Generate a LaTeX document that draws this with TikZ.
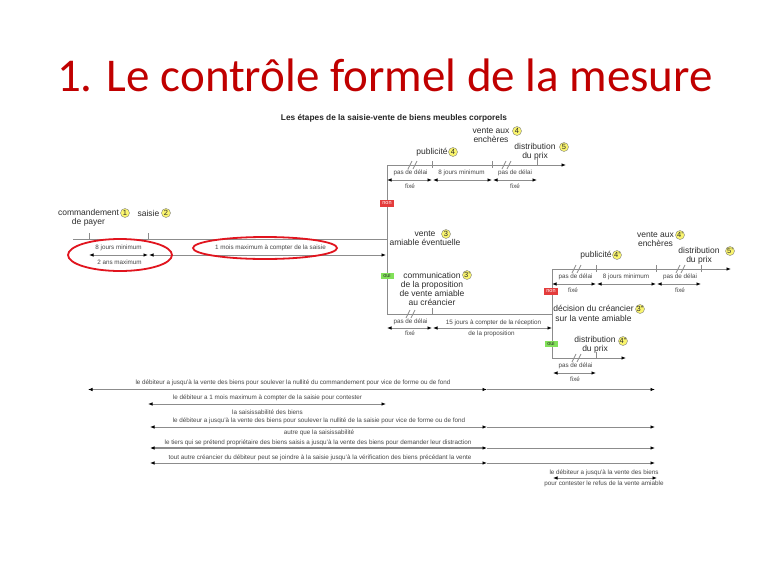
\documentclass[tikz,border=0pt]{standalone}
\usepackage{fontspec}
\setmainfont{Liberation Sans}
\newfontfamily\titlefont{Carlito}
\usetikzlibrary{arrows.meta}
\definecolor{titlered}{RGB}{192,0,0}
\definecolor{linegray}{RGB}{140,140,140}
\definecolor{labgray}{RGB}{45,45,45}
\definecolor{smallgray}{RGB}{70,70,70}
\definecolor{numyellow}{RGB}{250,245,110}
\definecolor{nonred}{RGB}{228,60,60}
\definecolor{ouigreen}{RGB}{130,225,90}
\definecolor{ellred}{RGB}{225,20,30}
\newcommand\dslash[2]{%
  \draw[tline] (#1-5,#2+4) -- (#1-1,#2-4);
  \draw[tline] (#1,#2+4) -- (#1+4,#2-4);}
\newcommand\tmk[2]{\draw[tline] (#1,#2-4) -- (#1,#2+3);}
\begin{document}
\begin{tikzpicture}[x=1pt,y=-1pt,
  >={Latex[length=4.5pt,width=3.5pt,color=black]},
  tline/.style={draw=linegray,line width=0.8pt},
  lab/.style={font=\fontsize{8.5}{9.3}\selectfont,text=labgray,align=center,inner sep=0pt},
  small/.style={font=\fontsize{6.3}{7}\selectfont,text=smallgray,inner sep=0pt},
  numc/.style={circle,fill=numyellow,draw=gray,line width=0.4pt,inner sep=0pt,minimum size=9pt,font=\fontsize{7.5}{8}\selectfont,text=labgray},
  nonbox/.style={fill=nonred,text=white,font=\fontsize{5.5}{6}\selectfont,minimum width=14pt,minimum height=7pt,inner sep=0pt},
  ouibox/.style={fill=ouigreen,text=labgray,font=\fontsize{5.5}{6}\selectfont,minimum width=13pt,minimum height=6.5pt,inner sep=0pt}]
\useasboundingbox (0,0) rectangle (768,576);
\fill[white] (0,0) rectangle (768,576);

% titles
\node[font=\titlefont\fontsize{47}{50}\selectfont,text=titlered,anchor=base,inner sep=0pt] (title) at (385,91) {1. Le contrôle formel de la mesure};
\node[font=\bfseries\fontsize{8.3}{9}\selectfont,text=black!85,inner sep=0pt] (dtitle) at (394,118) {Les étapes de la saisie-vente de biens meubles corporels};

% ---------- main line ----------
\coordinate (m0) at (73,239);
\coordinate (mj) at (387,239);
\draw[tline] (m0) -- (mj);
\tmk{89}{237}\tmk{148}{237}
\coordinate (a0) at (89,255);
\coordinate (a1) at (148,255);
\coordinate (a1b) at (149,255);
\coordinate (a2) at (386,255);
\draw[tline,<->] (a0) -- (a1);
\draw[tline,<->] (a1b) -- (a2);
\node[lab] (cmd) at (88.5,218) {commandement\\de payer};
\node[numc] (n1) at (125,213) {1};
\node[lab] (saisie) at (148.5,213) {saisie};
\node[numc] (n2) at (166,213) {2};
\node[small] (s8j) at (118.5,248) {8 jours minimum};
\node[small] (s2a) at (119.5,262) {2 ans maximum};
\node[small] (s1m) at (270.5,248) {1 mois maximum à compter de la saisie};
\draw[ellred,line width=1.8pt] (120,255) ellipse [x radius=52,y radius=16];
\draw[ellred,line width=1.8pt] (265,248) ellipse [x radius=72,y radius=11];

% ---------- vertical 1 and top timeline ----------
\coordinate (v1t) at (387,165);
\coordinate (v1b) at (387,314);
\coordinate (t1e) at (566,165);
\draw[tline] (v1t) -- (v1b);
\draw[tline,->] (v1t) -- (t1e);
\tmk{432}{165}\tmk{492}{165}\tmk{537}{162}
\dslash{413}{165}\dslash{507}{165}
\coordinate (p1a) at (387,180);
\coordinate (p1b) at (432,180);
\coordinate (p1bb) at (433,180);
\coordinate (p1c) at (492,180);
\coordinate (p1cc) at (493,180);
\coordinate (p1d) at (537,180);
\draw[tline,<->] (p1a) -- (p1b);
\draw[tline,<->] (p1bb) -- (p1c);
\draw[tline,<->] (p1cc) -- (p1d);
\node[small] (t1l1) at (410.5,173) {pas de délai};
\node[small] (t1l2) at (461.5,173) {8 jours minimum};
\node[small] (t1l3) at (515,173) {pas de délai};
\node[small] (t1f1) at (410,186) {fixé};
\node[small] (t1f2) at (515,186) {fixé};
\node[lab] (pub1) at (432,152) {publicité};
\node[numc] (n4a) at (453,152) {4};
\node[lab] (vae1) at (491,135.5) {vente aux\\enchères};
\node[numc] (n4b) at (517,131) {4};
\node[lab] (dist1) at (535,151.5) {distribution\\du prix};
\node[numc] (n5) at (564,147) {5};

% vente amiable
\node[lab] (vente) at (425,238.5) {vente\\amiable éventuelle};
\node[numc] (n3) at (446,234) {3};
\node[lab] (comm) at (432,289) {communication\\de la proposition\\de vente amiable\\au créancier};
\node[numc] (n3p) at (467,275) {3'};

% ---------- communication line ----------
\coordinate (v2m) at (552,314);
\draw[tline] (v1b) -- (v2m);
\tmk{432}{312}
\dslash{411}{314}
\coordinate (c1) at (387,328);
\coordinate (c2) at (432,328);
\coordinate (c2b) at (433,328);
\coordinate (c3) at (552,328);
\draw[tline,<->] (c1) -- (c2);
\draw[tline,<->] (c2b) -- (c3);
\node[small] (cl1) at (410.5,322) {pas de délai};
\node[small] (cl2) at (493.5,323) {15 jours à compter de la réception};
\node[small] (cf1) at (410,333.5) {fixé};
\node[small] (cl3) at (491.5,333.5) {de la proposition};

% ---------- vertical 2 ----------
\coordinate (v2t) at (552,269);
\coordinate (v2b) at (552,358);
\coordinate (t2e) at (731,269);
\coordinate (t3e) at (626,358);
\draw[tline] (v2t) -- (v2b);
\draw[tline,->] (v2t) -- (t2e);
\draw[tline,->] (v2b) -- (t3e);
\tmk{596}{269}\tmk{656}{269}\tmk{701}{269}
\dslash{577}{269}\dslash{681}{269}
\coordinate (q1) at (552,284);
\coordinate (q2) at (596,284);
\coordinate (q2b) at (597,284);
\coordinate (q3) at (656,284);
\coordinate (q3b) at (657,284);
\coordinate (q4) at (701,284);
\draw[tline,<->] (q1) -- (q2);
\draw[tline,<->] (q2b) -- (q3);
\draw[tline,<->] (q3b) -- (q4);
\node[small] (t2l1) at (575.5,277) {pas de délai};
\node[small] (t2l2) at (626,277) {8 jours minimum};
\node[small] (t2l3) at (680,277) {pas de délai};
\node[small] (t2f1) at (573,290) {fixé};
\node[small] (t2f2) at (680,290) {fixé};
\node[lab] (pub2) at (596,255) {publicité};
\node[numc] (n4c) at (617,255) {4'};
\node[lab] (vae2) at (655.5,239.5) {vente aux\\enchères};
\node[numc] (n4d) at (680,235) {4'};
\node[lab] (dist2) at (699,256) {distribution\\du prix};
\node[numc] (n5p) at (730,251) {5'};
\node[lab] (dec) at (593.5,313.5) {décision du créancier\\sur la vente amiable};
\node[numc] (n3pp) at (640,309) {3''};
\node[lab] (dist3) at (595,345) {distribution\\du prix};
\node[numc] (n4pp) at (623,341) {4''};
\tmk{596}{356}
\dslash{577}{358}
\coordinate (r1) at (553,373);
\coordinate (r2) at (596,373);
\draw[tline,<->] (r1) -- (r2);
\node[small] (t3l1) at (575.5,366) {pas de délai};
\node[small] (t3f1) at (575,379) {fixé};

% boxes
\node[nonbox] (non1) at (387,203) {non};
\node[ouibox] (oui1) at (387,276) {oui};
\node[nonbox] (non2) at (551,291) {non};
\node[ouibox] (oui2) at (551,344) {oui};

% ---------- bottom lines ----------
\coordinate (b1a) at (88,389.5);
\coordinate (b1m) at (487,389.5);
\coordinate (b1e) at (655,389.5);
\draw[tline,<->] (b1a) -- (b1m);
\draw[tline,->] (b1m) -- (b1e);
\node[small] (bt1) at (293,383) {le débiteur a jusqu'à la vente des biens pour soulever la nullité du commandement pour vice de forme ou de fond};

\coordinate (b2a) at (148,404);
\coordinate (b2e) at (386,404);
\draw[tline,<->] (b2a) -- (b2e);
\node[small] (bt2) at (267.5,398) {le débiteur a 1 mois maximum à compter de la saisie pour contester};
\node[small] (bt2b) at (267.5,412) {la saisissabilité des biens};

\coordinate (b3a) at (150,427);
\coordinate (b3m) at (487,427);
\coordinate (b3e) at (655,427);
\draw[tline,<->] (b3a) -- (b3m);
\draw[tline,->] (b3m) -- (b3e);
\node[small] (bt3) at (319,421) {le débiteur a jusqu'à la vente des biens pour soulever la nullité de la saisie pour vice de forme ou de fond};
\node[small] (bt3b) at (319,432.5) {autre que la saisissabilité};

\coordinate (b4a) at (150,448);
\coordinate (b4m) at (487,448);
\coordinate (b4e) at (655,448);
\draw[tline,line width=1.2pt,<->] (b4a) -- (b4m);
\draw[tline,->] (b4m) -- (b4e);
\node[small] (bt4) at (318,443) {le tiers qui se prétend propriétaire des biens saisis a jusqu'à la vente des biens pour demander leur distraction};

\coordinate (b5a) at (150,463);
\coordinate (b5m) at (487,463);
\coordinate (b5e) at (655,463);
\draw[tline,<->] (b5a) -- (b5m);
\draw[tline,->] (b5m) -- (b5e);
\node[small] (bt5) at (320,457.5) {tout autre créancier du débiteur peut se joindre à la saisie jusqu'à la vérification des biens précédant la vente};

\coordinate (b6a) at (553,478);
\coordinate (b6e) at (657,478);
\draw[tline,<->] (b6a) -- (b6e);
\node[small] (bt6) at (604,473) {le débiteur a jusqu'à la vente des biens};
\node[small] (bt6b) at (604,483.5) {pour contester le refus de la vente amiable};
\end{tikzpicture}
\end{document}
